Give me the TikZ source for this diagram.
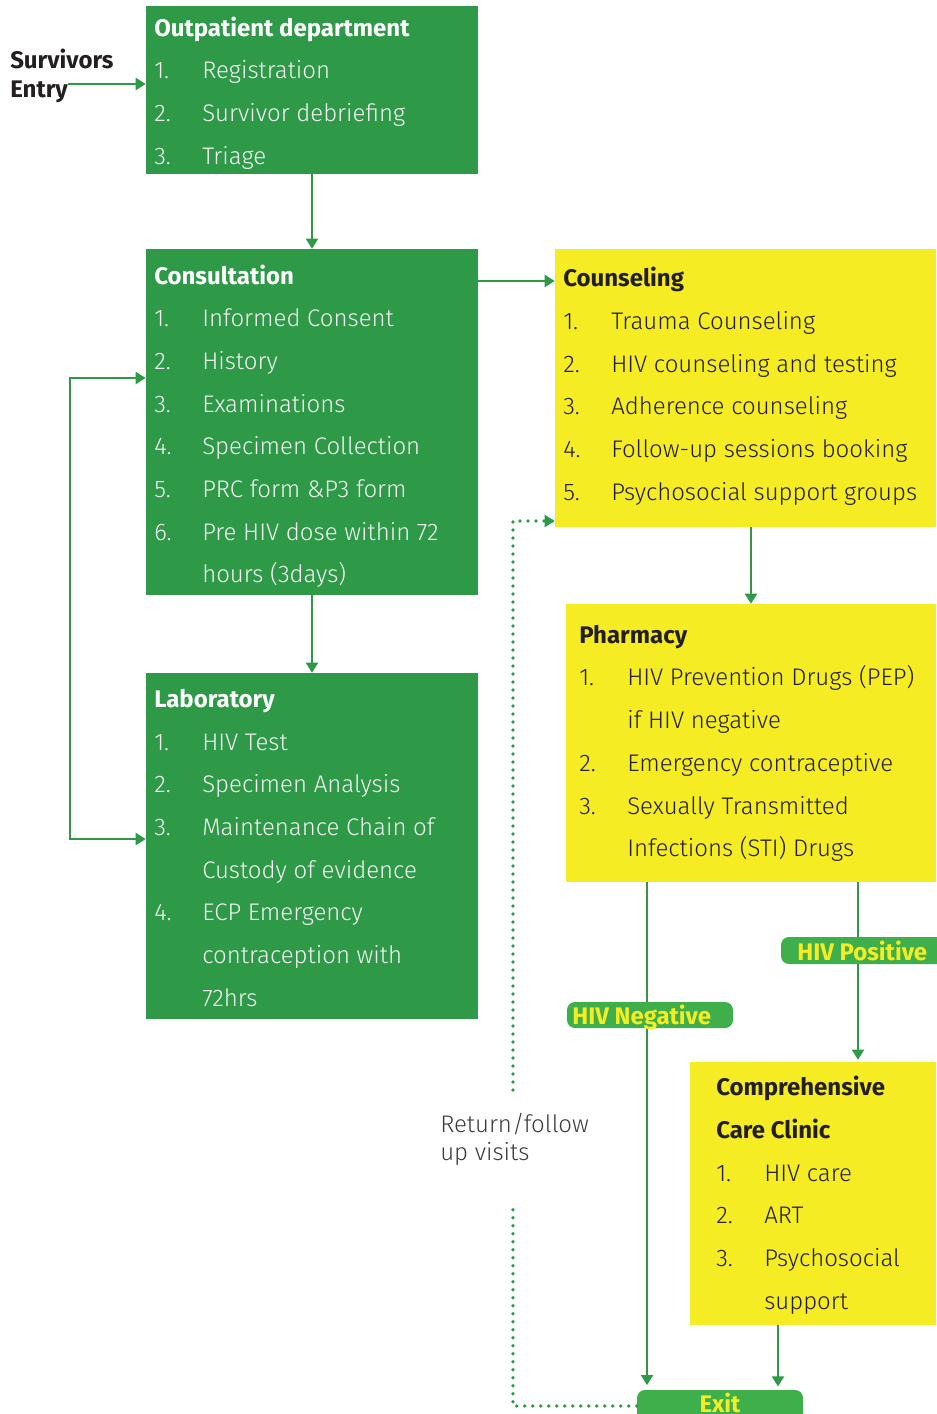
\documentclass[tikz,border=0pt]{standalone}
\usepackage{fontspec}
\setmainfont{Fira Sans}[UprightFont=* Light, BoldFont=* Bold]
\usetikzlibrary{arrows.meta,fit,calc}
\definecolor{gboxc}{HTML}{2E9A48}
\definecolor{yboxc}{HTML}{F5EC23}
\definecolor{lblc}{HTML}{3EAF4A}
\definecolor{darkt}{HTML}{231F20}
\definecolor{grayt}{HTML}{3C3C3C}
\definecolor{wtext}{HTML}{F4F4F4}
\tikzset{
  gbox/.style={fill=gboxc, draw=none, inner sep=0pt},
  ybox/.style={fill=yboxc, draw=none, inner sep=0pt},
  lbl/.style={fill=lblc, draw=none, inner sep=0pt, rounded corners=6pt},
  bodyfont/.style={font=\fontsize{18}{21}\selectfont},
  headfont/.style={font=\bfseries\fontsize{18}{21}\selectfont},
  whead/.style={anchor=base west, inner sep=0pt, text=white, headfont},
  witem/.style={anchor=base west, inner sep=0pt, text=wtext, bodyfont},
  dhead/.style={anchor=base west, inner sep=0pt, text=darkt, headfont},
  ditem/.style={anchor=base west, inner sep=0pt, text=darkt, bodyfont},
  ltext/.style={anchor=base west, inner sep=0pt, text=yboxc, headfont},
  gtext/.style={anchor=base west, inner sep=0pt, text=grayt, bodyfont},
  arr/.style={draw=gboxc, line width=1.5pt, -{Triangle[length=7.5pt,width=9pt]}},
  arrboth/.style={draw=gboxc, line width=1.5pt, {Triangle[length=7.5pt,width=9pt]}-{Triangle[length=7.5pt,width=9pt]}},
  dotline/.style={draw=gboxc, line width=2.7pt, line cap=round, dash pattern=on 0pt off 6pt},
}
\begin{document}
\begin{tikzpicture}[x=0.75pt,y=-0.75pt]
\useasboundingbox (0,0) rectangle (936,1414);

% boxes
\node[gbox, fit={(146,6)(478,174)}] (opd) {};
\node[gbox, fit={(146,249)(478,595)}] (cons) {};
\node[gbox, fit={(146,673)(478,1019)}] (lab) {};
\node[ybox, fit={(555,249)(936,527)}] (coun) {};
\node[ybox, fit={(566,604)(936,882)}] (pharm) {};
\node[ybox, fit={(690,1062)(936,1325)}] (ccc) {};
\node[lbl, fit={(637,1390)(803,1440)}] (exit) {};
\node[ltext, anchor=base] (exitt) at (720,1412) {Exit};

% Outpatient
\node[whead] (opdh) at (154,36) {Outpatient department};
\foreach \nm/\tx/\yy [count=\i] in {1./Registration/78, 2./Survivor debriefing/121, 3./Triage/164}{
  \node[witem] (opdn\i) at (154,\yy) {\nm};
  \node[witem] (opdt\i) at (202,\yy) {\tx};
}

% Consultation
\node[whead] (consh) at (154,284) {Consultation};
\foreach \nm/\tx/\yy [count=\i] in {1./Informed Consent/326, 2./History/369, 3./Examinations/412, 4./Specimen Collection/454, 5./PRC form \&P3 form/497, 6./Pre HIV dose within 72/540, /hours (3days)/582}{
  \node[witem] (consn\i) at (154,\yy) {\nm};
  \node[witem] (canst\i) at (202,\yy) {\tx};
}

% Laboratory
\node[whead] (labh) at (154,707) {Laboratory};
\foreach \nm/\tx/\yy [count=\i] in {1./HIV Test/750, 2./Specimen Analysis/792, 3./Maintenance Chain of/835, /Custody of evidence/878, 4./ECP Emergency/920, /contraception with/963, /72hrs/1006}{
  \node[witem] (labn\i) at (154,\yy) {\nm};
  \node[witem] (labt\i) at (202,\yy) {\tx};
}

% Counseling
\node[dhead] (counh) at (563,286) {Counseling};
\foreach \nm/\tx/\yy [count=\i] in {1./Trauma Counseling/329, 2./HIV counseling and testing/372, 3./Adherence counseling/414, 4./Follow-up sessions booking/457, 5./Psychosocial support groups/500}{
  \node[ditem] (counn\i) at (563,\yy) {\nm};
  \node[ditem] (count\i) at (611,\yy) {\tx};
}

% Pharmacy
\node[dhead] (pharmh) at (579,643) {Pharmacy};
\foreach \nm/\tx/\yy [count=\i] in {1./HIV Prevention Drugs (PEP)/685, /if HIV negative/728, 2./Emergency contraceptive/771, 3./Sexually Transmitted/814, /Infections (STI) Drugs/856}{
  \node[ditem] (pharmn\i) at (579,\yy) {\nm};
  \node[ditem] (pharmt\i) at (627,\yy) {\tx};
}

% Comprehensive Care Clinic
\node[dhead] (ccch1) at (716,1095) {Comprehensive};
\node[dhead] (ccch2) at (716,1138) {Care Clinic};
\foreach \nm/\tx/\yy [count=\i] in {1./HIV care/1181, 2./ART/1223, 3./Psychosocial/1266, /support/1309}{
  \node[ditem] (cccn\i) at (716,\yy) {\nm};
  \node[ditem] (ccct\i) at (764,\yy) {\tx};
}

% Survivors entry
\node[anchor=base west, inner sep=0pt, text=darkt, headfont] (surv1) at (10,68) {Survivors};
\node[anchor=base west, inner sep=0pt, text=darkt, headfont] (surv2) at (10,97) {Entry};

% Return text
\node[gtext] (ret1) at (440,1132) {Return/follow};
\node[gtext] (ret2) at (440,1160) {up visits};

% helper coordinates
\coordinate (ent) at (68,84);
\coordinate (y281) at (0,281);
\coordinate (lp1) at (70,378);
\coordinate (lp2) at (70,839);
\coordinate (x751) at (751,0);
\coordinate (x647) at (647,0);
\coordinate (x858) at (858,0);
\coordinate (x778) at (778,0);
\coordinate (yd) at (0,1406);
\coordinate (d1) at (513,1406);
\coordinate (d2) at (513,1205);
\coordinate (d3) at (513,1090);
\coordinate (d4) at (513,521);

% connectors
\draw[arr] (ent) -- (opd.west |- ent);
\draw[arr] (opd.south) -- (cons.north);
\draw[arr] (cons.east |- y281) -- (coun.west |- y281);
\draw[arr] (cons.south) -- (lab.north);
\draw[arrboth] (cons.west |- lp1) -- (lp1) -- (lp2) -- (lab.west |- lp2);
\draw[arr] (x751 |- coun.south) -- (x751 |- pharm.north);
\draw[arr, shorten >=3.5pt] (x647 |- pharm.south) -- (x647 |- exit.north);
\draw[arr, shorten >=1.5pt] (x858 |- pharm.south) -- (x858 |- ccc.north);
\draw[arr, shorten >=2.5pt] (x778 |- ccc.south) -- (x778 |- exit.north);
\draw[dotline] (exit.west |- yd) -- (d1) -- (d2);
\draw[dotline] (d3) -- (d4) -- (coun.west |- d4);
\draw[draw=gboxc, line width=1.5pt, -{Triangle[length=7.5pt,width=9pt]}] ($(coun.west |- d4)+(-8,0)$) -- (coun.west |- d4);

% labels on lines
\node[lbl, fit={(781,937)(960,964)}] (pos) {};
\node[ltext] (post) at (797,960) {HIV Positive};
\node[lbl, fit={(567,1002)(733,1028)}] (neg) {};
\node[ltext] (negt) at (572,1024) {HIV Negative};
\end{tikzpicture}
\end{document}
